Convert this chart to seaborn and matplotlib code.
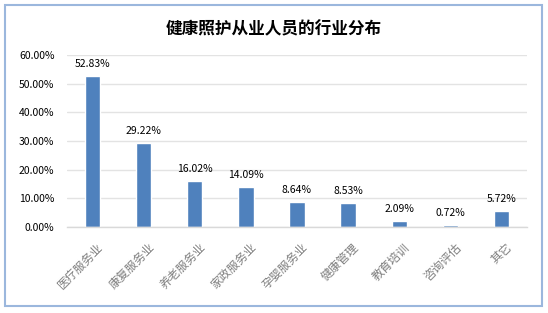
import matplotlib
matplotlib.use("Agg")
import matplotlib.pyplot as plt
import matplotlib.transforms as mtransforms
import seaborn as sns
import pandas as pd
from matplotlib.patches import Rectangle

categories = ["医疗服务业", "康复服务业", "养老服务业", "家政服务业", "孕婴服务业",
              "健康管理", "教育培训", "咨询评估", "其它"]
values = [52.83, 29.22, 16.02, 14.09, 8.64, 8.53, 2.09, 0.72, 5.72]
yticks = [0, 10, 20, 30, 40, 50, 60]
title = "健康照护从业人员的行业分布"

sns.set_theme(style="white")
plt.rcParams['font.family'] = ['Noto Sans CJK SC', 'DejaVu Sans']

df = pd.DataFrame({"cat": categories, "val": values})

fig = plt.figure(figsize=(5.48, 3.13), dpi=100)
ax = fig.add_axes([67/548, 1-227/313, 460/548, 172/313])

sns.barplot(data=df, x="cat", y="val", color="#4F81BD", width=0.3, ax=ax, saturation=1)

ax.set_ylim(0, 60)
ax.set_xlim(-0.5, len(categories) - 0.5)
ax.set_yticks(yticks)
ax.set_yticklabels([f"{v:.2f}%" for v in yticks], fontsize=7.5, color="black")
ax.yaxis.grid(True, color="#E3E3E3", linewidth=1.0)
ax.set_axisbelow(True)
for s in ["top", "right", "left"]:
    ax.spines[s].set_visible(False)
ax.spines["bottom"].set_color("#D9D9D9")
ax.spines["bottom"].set_linewidth(1.0)
ax.tick_params(axis="y", length=0, pad=9)
ax.tick_params(axis="x", length=0, pad=10)
ax.set_xlabel("")
ax.set_ylabel("")
ax.set_xticks(range(len(categories)))
ax.set_xticklabels(categories, rotation=45, ha="right", rotation_mode="anchor",
                   fontsize=8.5, color="#7F7F7F")
offset = mtransforms.ScaledTranslation(3/72, 0, fig.dpi_scale_trans)
for lab in ax.get_xticklabels():
    lab.set_transform(lab.get_transform() + offset)

for i, v in enumerate(values):
    ax.annotate(f"{v:.2f}%", (i, v), xytext=(0, 5), textcoords="offset points",
                ha="center", va="bottom", fontsize=7.5, color="black")

fig.text(0.5, 1-29/313, title, ha="center", va="center", fontsize=12,
         fontweight="bold", color="black")

fig.patches.append(Rectangle((5/548, 1-306/313), 537/548, 301/313, transform=fig.transFigure,
                             fill=False, edgecolor="#9BB7DD", linewidth=1.5))

fig.savefig("out.png", dpi=100)
